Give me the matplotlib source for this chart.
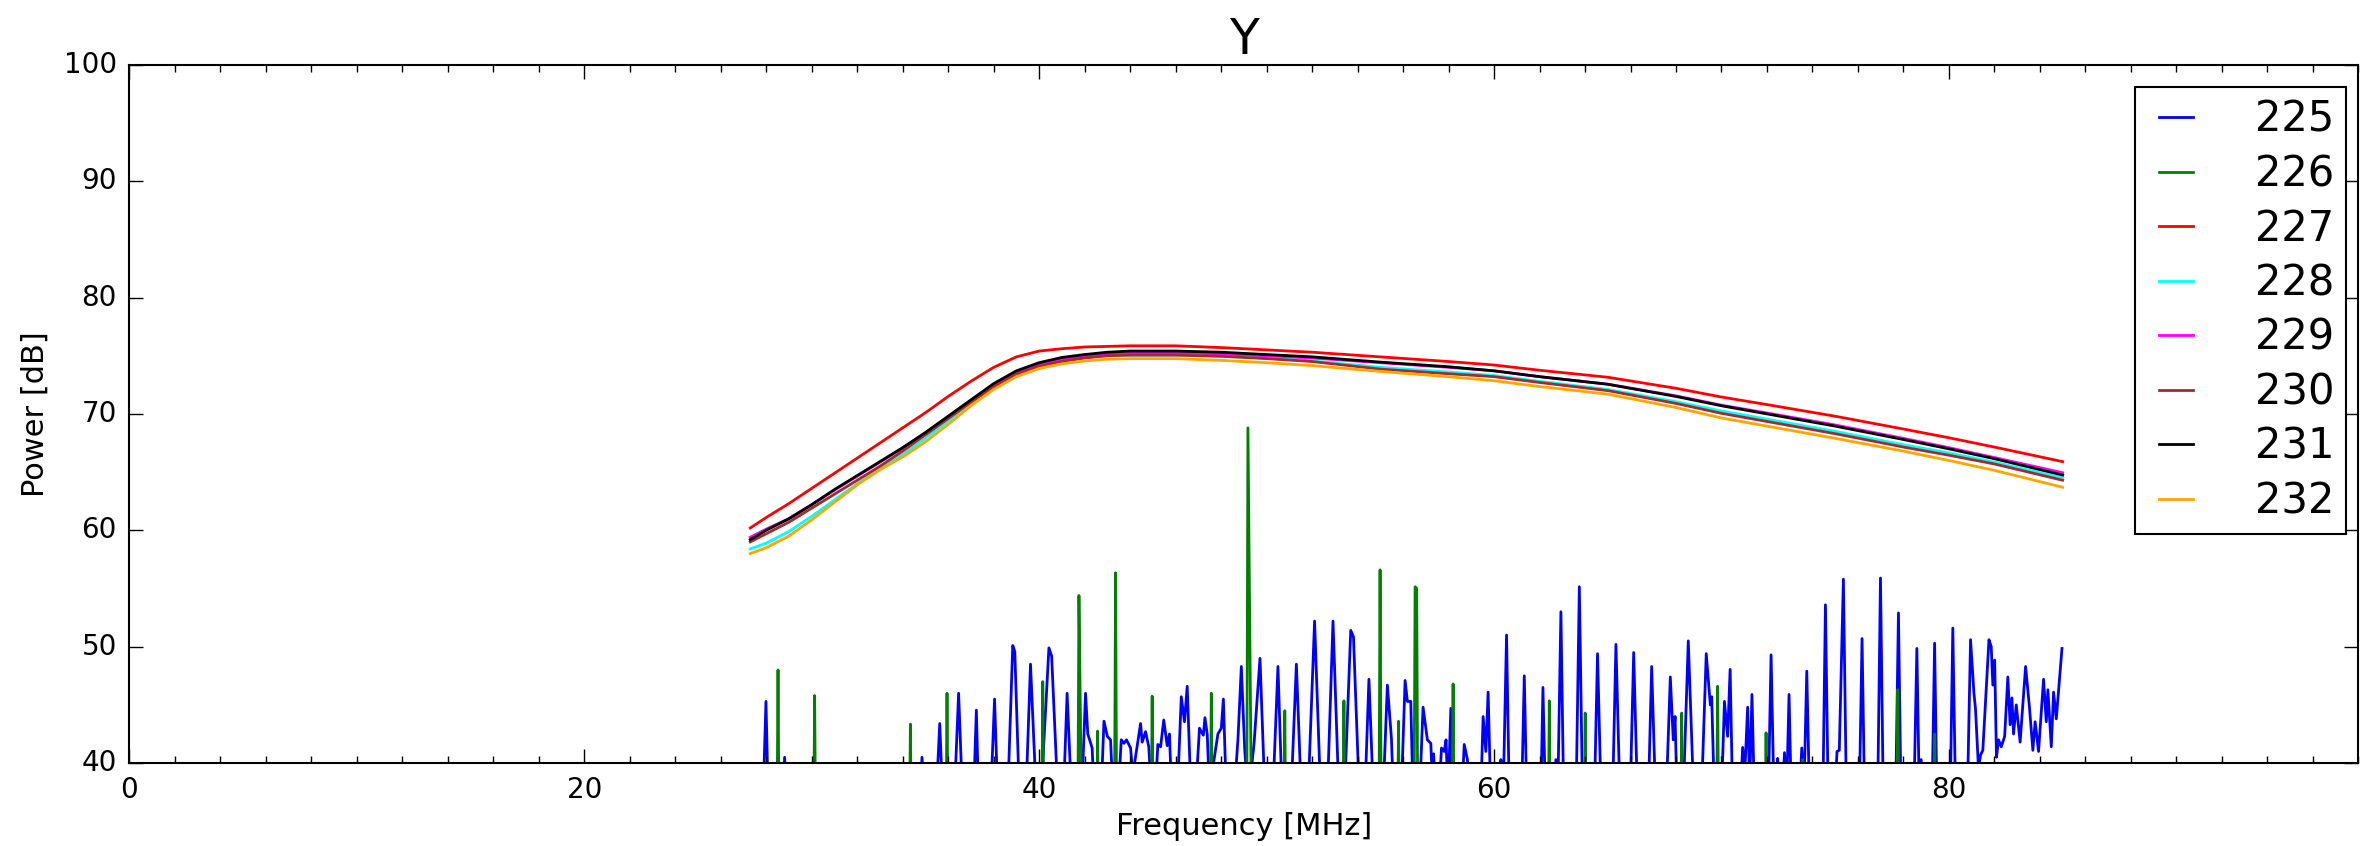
import matplotlib
matplotlib.use("Agg")
import matplotlib.pyplot as plt
from matplotlib.ticker import MultipleLocator

# smooth curves 227-232, sampled on a common frequency grid [MHz]
freq = [27.3, 28, 29, 30, 31, 32, 33, 34, 35, 36, 37, 38, 39, 40, 41, 42, 43, 44, 46, 48,
        50, 52, 55, 58, 60, 62, 65, 68, 70, 72, 75, 78, 80, 82, 85]

p227 = [60.2, 61.1, 62.3, 63.6, 64.9, 66.2, 67.5, 68.8, 70.1, 71.5, 72.8, 74.0, 74.9, 75.4, 75.6, 75.75, 75.8, 75.85, 75.85, 75.7,
        75.5, 75.3, 74.9, 74.5, 74.2, 73.75, 73.15, 72.2, 71.45, 70.8, 69.8, 68.7, 67.95, 67.15, 65.9]
p228 = [58.4, 58.9, 59.9, 61.2, 62.6, 64.0, 65.3, 66.5, 67.9, 69.4, 71.0, 72.4, 73.5, 74.2, 74.6, 74.85, 75.0, 75.05, 75.05, 74.95,
        74.8, 74.55, 74.0, 73.6, 73.3, 72.8, 72.1, 71.05, 70.25, 69.55, 68.5, 67.35, 66.65, 65.85, 64.5]
p229 = [59.4, 60.1, 61.0, 62.2, 63.45, 64.65, 65.85, 67.05, 68.35, 69.75, 71.15, 72.5, 73.6, 74.3, 74.7, 74.95, 75.15, 75.2, 75.25, 75.15,
        75.0, 74.8, 74.4, 74.0, 73.7, 73.2, 72.55, 71.55, 70.75, 70.08, 69.05, 67.9, 67.1, 66.25, 64.95]
p230 = [59.0, 59.7, 60.7, 61.9, 63.1, 64.3, 65.5, 66.8, 68.2, 69.6, 71.0, 72.3, 73.4, 74.1, 74.5, 74.8, 75.0, 75.05, 75.05, 74.95,
        74.75, 74.5, 73.85, 73.45, 73.2, 72.7, 72.0, 70.9, 70.05, 69.35, 68.3, 67.15, 66.45, 65.7, 64.3]
p231 = [59.2, 60.0, 61.0, 62.2, 63.5, 64.7, 65.9, 67.1, 68.4, 69.8, 71.2, 72.6, 73.7, 74.4, 74.85, 75.1, 75.3, 75.4, 75.4, 75.3,
        75.1, 74.9, 74.45, 74.05, 73.7, 73.2, 72.55, 71.5, 70.7, 70.0, 68.95, 67.8, 67.0, 66.15, 64.75]
p232 = [58.0, 58.5, 59.5, 60.9, 62.4, 63.9, 65.2, 66.3, 67.6, 69.1, 70.7, 72.1, 73.2, 73.9, 74.3, 74.55, 74.7, 74.75, 74.75, 74.6,
        74.4, 74.15, 73.65, 73.2, 72.85, 72.35, 71.7, 70.55, 69.65, 68.95, 67.9, 66.8, 66.0, 65.15, 63.7]

# 225: noisy trace (values below 40 fall off the axis)
f225 = [27.3, 27.85, 27.99, 28.1, 28.7, 28.81, 28.9, 34.75, 34.85, 34.95, 35.45, 35.63, 35.78, 36.25, 36.46, 36.65,
        37.1, 37.24, 37.35, 37.85, 38.04, 38.2, 38.6, 38.84, 38.93, 39.15, 39.4, 39.62, 39.9, 40.05, 40.43, 40.55, 40.85,
        41.05, 41.23, 41.45, 41.85, 42.04, 42.14, 42.33, 42.45, 42.7, 42.85, 43.0, 43.14, 43.28, 43.5, 43.61, 43.73, 43.84,
        44.02, 44.12, 44.46, 44.53, 44.68, 44.82, 44.95, 45.12, 45.22, 45.34, 45.48, 45.63, 45.73, 45.85, 46.05, 46.25, 46.39,
        46.51, 46.7, 46.9, 47.05, 47.1, 47.22, 47.29, 47.39, 47.5, 47.69, 47.86, 48.01, 48.1, 48.25, 48.6, 48.74, 48.89, 49.04,
        49.2, 49.45, 49.71, 49.95, 50.25, 50.5, 50.7, 51.05, 51.31, 51.55, 51.8, 52.11, 52.4, 52.65, 52.92, 53.2, 53.4, 53.7,
        53.82, 54.1, 54.3, 54.5, 54.72, 55.1, 55.31, 55.49, 55.6, 55.9, 56.09, 56.19, 56.34, 56.45, 56.7, 56.88, 57.07, 57.22,
        57.3, 57.34, 57.45, 57.6, 57.69, 57.81, 57.89, 57.98, 58.1, 58.2, 58.6, 58.69, 58.83, 58.95, 59.4, 59.52, 59.64, 59.74,
        59.87, 60.25, 60.3, 60.4, 60.55, 60.68, 61.2, 61.33, 61.45, 62.05, 62.15, 62.27, 62.65, 62.72, 62.8, 62.94, 63.07,
        63.6, 63.75, 63.9, 64.4, 64.55, 64.72, 65.2, 65.36, 65.55, 65.97, 66.14, 66.32, 66.77, 66.93, 67.12, 67.55, 67.75,
        67.88, 67.96, 68.06, 68.3, 68.54, 68.8, 69.1, 69.33, 69.51, 69.57, 69.7, 69.98, 70.13, 70.27, 70.38, 70.5, 70.85,
        70.93, 71.02, 71.15, 71.24, 71.34, 71.46, 72.05, 72.18, 72.32, 72.42, 72.47, 72.55, 72.7, 72.77, 72.86, 72.97, 73.08,
        73.45, 73.53, 73.62, 73.75, 73.88, 74.45, 74.57, 74.7, 75.0, 75.08, 75.18, 75.36, 75.5, 76.05, 76.18, 76.3, 76.86,
        76.99, 77.12, 77.65, 77.78, 77.9, 78.45, 78.59, 78.7, 78.78, 78.86, 79.25, 79.37, 79.48, 80.05, 80.17, 80.3, 80.8,
        80.95, 81.1, 81.17, 81.3, 81.39, 81.49, 81.76, 81.86, 81.93, 82.01, 82.09, 82.18, 82.3, 82.45, 82.59, 82.69, 82.77,
        82.84, 82.96, 83.13, 83.37, 83.54, 83.69, 83.79, 83.94, 84.16, 84.28, 84.35, 84.5, 84.6, 84.72, 84.97]
p225 = [36, 36, 45.3, 36, 36, 40.5, 36, 36, 40.5, 36, 36, 43.4, 36, 36, 46.0, 36,
        36, 44.55, 36, 36, 45.5, 36, 36, 50.1, 49.6, 36, 36, 48.5, 36, 36, 49.9, 49.2, 36,
        36, 46.0, 36, 36, 46.0, 42.5, 41.3, 36, 36, 43.6, 42.3, 42.0, 36, 38, 42.0, 41.7, 42.0,
        41.3, 39.0, 43.4, 41.8, 42.7, 41.4, 37, 38, 41.6, 41.4, 43.7, 41.5, 42.5, 36, 36, 45.7, 43.55,
        46.6, 36, 38, 43.0, 42.8, 42.4, 43.9, 42.5, 37, 40.3, 42.5, 43.0, 45.5, 36, 38, 42.0, 48.3, 41.1,
        37, 41.7, 49.0, 36, 36, 48.3, 36, 36, 48.5, 36, 36, 52.2, 36, 36, 52.2, 36, 36, 51.4,
        50.85, 36, 36, 47.2, 36, 36, 46.7, 42.1, 36, 36, 47.1, 45.3, 45.3, 36, 36, 44.8, 42.0, 41.7,
        38, 40.8, 37, 38, 41.3, 41.0, 42.0, 37, 44.7, 36, 38, 41.6, 40.3, 36, 36, 44.0, 41.0, 46.1,
        36, 38, 40.3, 37, 51.0, 36, 36, 47.5, 36, 36, 46.5, 36, 38, 40.3, 37, 53.0, 36,
        36, 55.15, 36, 36, 49.4, 36, 36, 50.2, 36, 36, 49.5, 36, 36, 48.3, 36, 36, 47.4,
        42.0, 44.0, 36, 36, 50.5, 36, 36, 49.4, 45.0, 45.7, 36, 36, 45.3, 42.3, 48.05, 36, 38,
        41.35, 39, 44.8, 38, 45.9, 36, 36, 49.3, 36, 38, 40.4, 37, 38, 40.9, 37, 45.9, 36,
        38, 41.3, 37, 47.9, 36, 36, 53.6, 36, 38, 41.0, 41.1, 55.8, 36, 36, 50.7, 36, 36,
        55.9, 36, 36, 52.9, 36, 36, 49.85, 37, 40.3, 37, 36, 50.3, 36, 36, 51.6, 36, 36,
        50.6, 46.0, 44.6, 39.5, 40.7, 41.1, 50.6, 50.0, 46.7, 48.85, 40.5, 42.0, 41.4, 42.3, 47.4, 43.3, 45.6,
        42.5, 45.0, 41.8, 48.3, 44.8, 41.1, 43.55, 41.0, 47.2, 43.55, 46.3, 41.4, 46.1, 43.8, 49.85]

# 226: mostly below 40 with narrow spikes
f226 = [27.3, 28.46, 28.52, 28.58, 30.07, 30.13, 30.19, 34.28, 34.34, 34.4, 35.89, 35.95, 36.01, 40.1, 40.16, 40.22,
        41.69, 41.75, 41.82, 41.88, 42.51, 42.57, 42.63, 43.3, 43.36, 43.42, 44.91, 44.97, 45.03, 47.51, 47.57, 47.63,
        49.12, 49.18, 49.3, 49.36, 50.74, 50.8, 50.86, 53.34, 53.4, 53.46, 54.93, 54.99, 55.05, 55.74, 55.8, 55.86,
        56.47, 56.53, 56.6, 56.66, 58.14, 58.2, 58.26, 62.37, 62.43, 62.49, 63.95, 64.01, 64.07, 68.19, 68.25, 68.31,
        69.77, 69.83, 69.89, 71.9, 71.96, 72.02, 73.51, 73.57, 73.63, 77.69, 77.75, 77.81, 79.31, 79.37, 79.43, 84.97]
p226 = [30, 30, 48.0, 30, 30, 45.8, 30, 30, 43.35, 30, 30, 46.0, 30, 30, 47.0, 30,
        30, 54.4, 43.3, 30, 30, 42.75, 30, 30, 56.35, 30, 30, 45.75, 30, 30, 46.0, 30,
        30, 68.8, 43.3, 30, 30, 44.5, 30, 30, 45.35, 30, 30, 56.6, 30, 30, 43.6, 30,
        30, 55.15, 55.0, 30, 30, 46.8, 30, 30, 45.35, 30, 30, 44.3, 30, 30, 44.3, 30,
        30, 46.6, 30, 30, 42.6, 30, 30, 40.3, 30, 30, 46.3, 30, 30, 42.5, 30, 30]

series = [("225", f225, p225, "blue"), ("226", f226, p226, "green"),
          ("227", freq, p227, "red"), ("228", freq, p228, "cyan"),
          ("229", freq, p229, "magenta"), ("230", freq, p230, "brown"),
          ("231", freq, p231, "black"), ("232", freq, p232, "orange")]

plt.style.use("classic")
fig = plt.figure(figsize=(23.6, 8.46), dpi=100)
ax = fig.add_axes([0.0548, 0.098, 0.9445, 0.8255])

for name, fx, fy, col in series:
    ax.plot(fx, fy, color=col, lw=2.0, label=name)

ax.set_xlim(0, 98)
ax.set_ylim(40, 100)
ax.xaxis.set_major_locator(MultipleLocator(20))
ax.xaxis.set_minor_locator(MultipleLocator(2))
ax.yaxis.set_major_locator(MultipleLocator(10))
ax.tick_params(which="major", direction="in", length=10, width=1, labelsize=20, pad=9,
               top=True, right=True)
ax.tick_params(which="minor", direction="in", length=5, width=1, top=True, right=True)
ax.tick_params(axis="y", which="minor", length=0)
for s in ax.spines.values():
    s.set_linewidth(1.5)

ax.set_title("Y", fontsize=35, pad=8)
ax.set_xlabel("Frequency [MHz]", fontsize=22, labelpad=6)
ax.set_ylabel("Power [dB]", fontsize=22, labelpad=10)

leg = ax.legend(loc="upper right", bbox_to_anchor=(0.9946, 0.968), borderaxespad=0,
                fontsize=30, handlelength=1.4, handletextpad=1.2,
                labelspacing=0.30, borderpad=0.28, frameon=True)
leg.get_frame().set_edgecolor("black")
leg.get_frame().set_linewidth(1.5)

fig.savefig("out.png", dpi=100)
